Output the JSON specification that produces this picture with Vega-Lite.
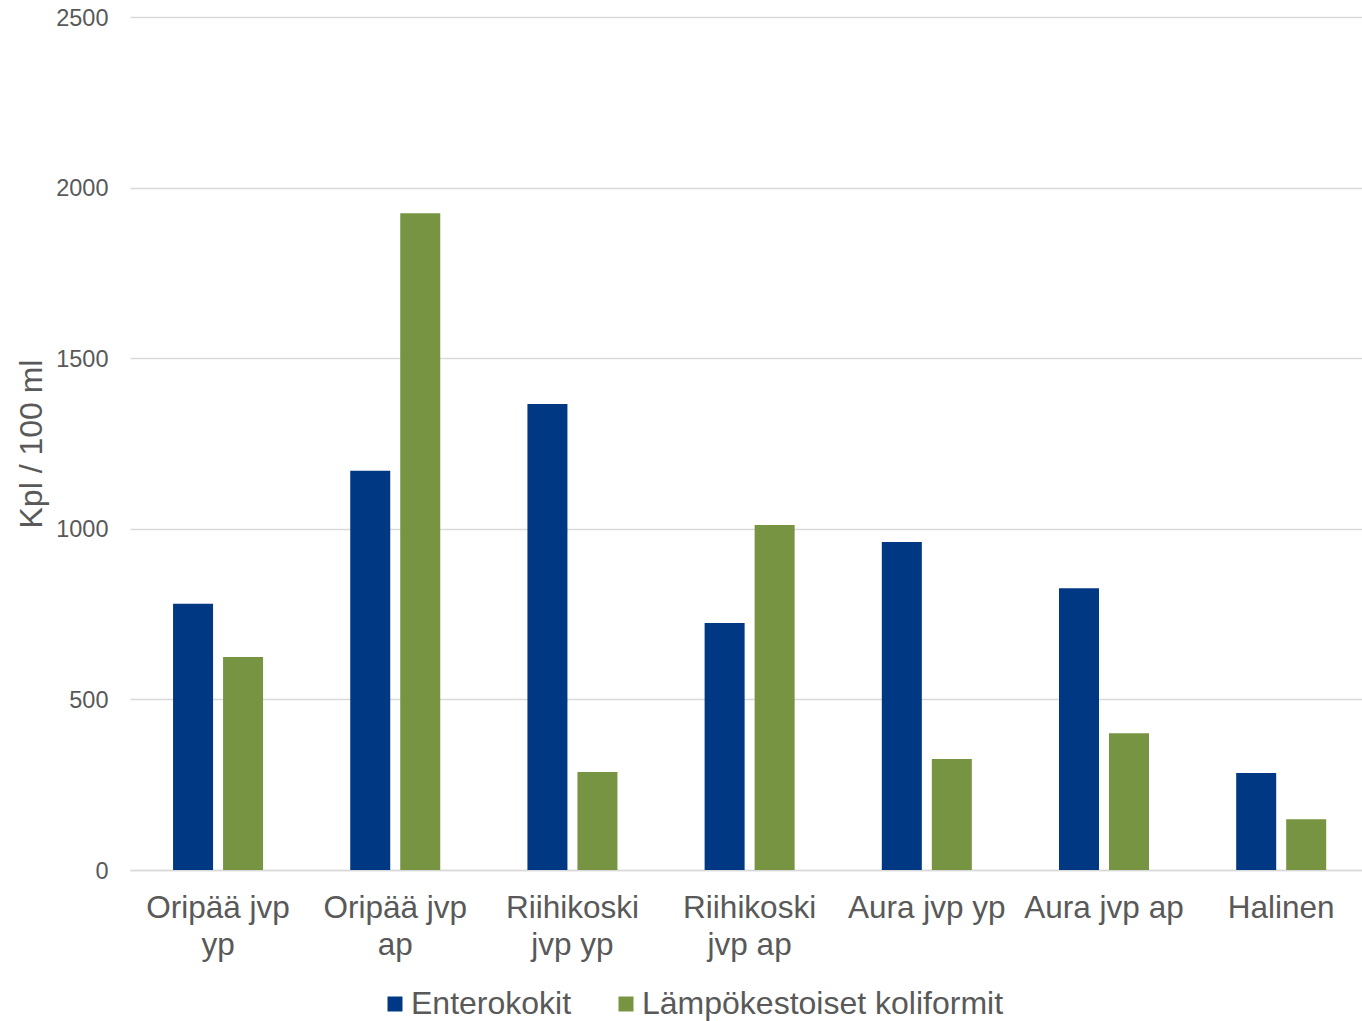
{
  "$schema": "https://vega.github.io/schema/vega-lite/v6.json",
  "width": 1232,
  "height": 853,
  "autosize": {"type": "none"},
  "padding": {"left": 130, "top": 17, "right": 0, "bottom": 151},
  "background": "white",
  "config": {
    "view": {"stroke": null},
    "font": "Liberation Sans"
  },
  "data": {
    "values": [
      {"paikka": "Oripää jvp yp", "muuttuja": "Enterokokit", "arvo": 780},
      {"paikka": "Oripää jvp yp", "muuttuja": "Lämpökestoiset koliformit", "arvo": 624},
      {"paikka": "Oripää jvp ap", "muuttuja": "Enterokokit", "arvo": 1170},
      {"paikka": "Oripää jvp ap", "muuttuja": "Lämpökestoiset koliformit", "arvo": 1925},
      {"paikka": "Riihikoski jvp yp", "muuttuja": "Enterokokit", "arvo": 1366},
      {"paikka": "Riihikoski jvp yp", "muuttuja": "Lämpökestoiset koliformit", "arvo": 287},
      {"paikka": "Riihikoski jvp ap", "muuttuja": "Enterokokit", "arvo": 724},
      {"paikka": "Riihikoski jvp ap", "muuttuja": "Lämpökestoiset koliformit", "arvo": 1011},
      {"paikka": "Aura jvp yp", "muuttuja": "Enterokokit", "arvo": 961},
      {"paikka": "Aura jvp yp", "muuttuja": "Lämpökestoiset koliformit", "arvo": 325},
      {"paikka": "Aura jvp ap", "muuttuja": "Enterokokit", "arvo": 826},
      {"paikka": "Aura jvp ap", "muuttuja": "Lämpökestoiset koliformit", "arvo": 401},
      {"paikka": "Halinen", "muuttuja": "Enterokokit", "arvo": 284},
      {"paikka": "Halinen", "muuttuja": "Lämpökestoiset koliformit", "arvo": 149}
    ]
  },
  "mark": {"type": "bar"},
  "encoding": {
    "x": {
      "field": "paikka",
      "type": "nominal",
      "sort": null,
      "scale": {"paddingInner": 0.492, "paddingOuter": 0.2225, "align": 0.546},
      "axis": {
        "title": null,
        "labelAngle": 0,
        "labelFontSize": 31.5,
        "labelColor": "#595959",
        "labelPadding": 22,
        "labelLineHeight": 37,
        "labelLimit": 0,
        "ticks": false,
        "domainColor": "#d9d9d9",
        "domainWidth": 1.5,
        "labelExpr": "datum.label == 'Oripää jvp yp' ? ['Oripää jvp', 'yp'] : datum.label == 'Oripää jvp ap' ? ['Oripää jvp', 'ap'] : datum.label == 'Riihikoski jvp yp' ? ['Riihikoski', 'jvp yp'] : datum.label == 'Riihikoski jvp ap' ? ['Riihikoski', 'jvp ap'] : datum.label"
      }
    },
    "xOffset": {
      "field": "muuttuja",
      "type": "nominal",
      "scale": {"paddingInner": 0.2, "paddingOuter": 0}
    },
    "y": {
      "field": "arvo",
      "type": "quantitative",
      "scale": {"domain": [0, 2500], "nice": false},
      "axis": {
        "title": "Kpl / 100 ml",
        "titleFontSize": 32,
        "titleFontWeight": "normal",
        "titleColor": "#595959",
        "titlePadding": 7,
        "values": [0, 500, 1000, 1500, 2000, 2500],
        "format": "d",
        "labelFontSize": 23.5,
        "labelColor": "#595959",
        "labelPadding": 22,
        "labelOffset": 1,
        "ticks": false,
        "domain": false,
        "gridColor": "#d9d9d9",
        "gridWidth": 1.5
      }
    },
    "color": {
      "field": "muuttuja",
      "type": "nominal",
      "scale": {
        "domain": ["Enterokokit", "Lämpökestoiset koliformit"],
        "range": ["#003883", "#779443"]
      },
      "legend": {
        "title": null,
        "orient": "none",
        "direction": "horizontal",
        "legendX": 249,
        "legendY": 971,
        "symbolType": "square",
        "symbolSize": 225,
        "symbolStrokeWidth": 0,
        "labelFontSize": 32,
        "labelLimit": 0,
        "labelColor": "#595959",
        "labelOffset": 0,
        "columnPadding": 38
      }
    }
  }
}
